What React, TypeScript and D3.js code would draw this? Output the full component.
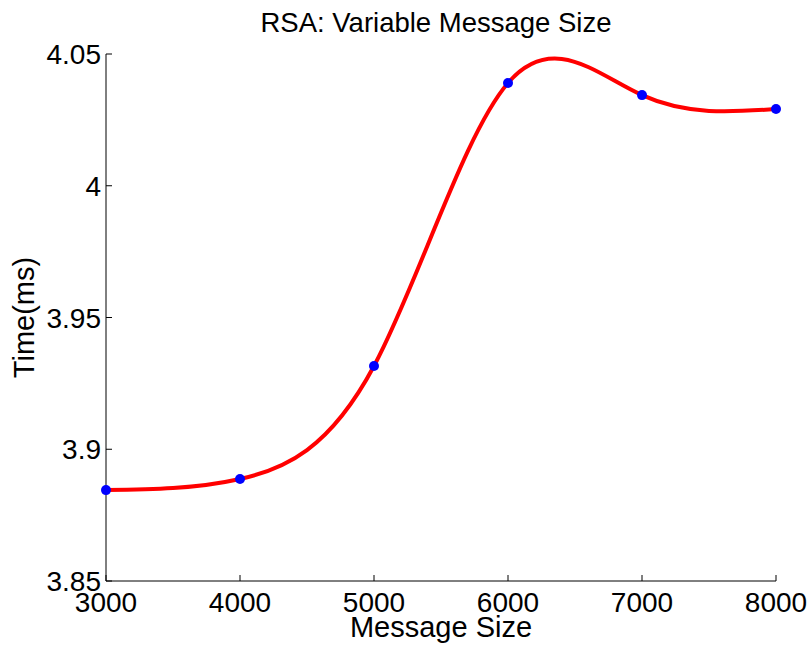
import { useRef, useEffect } from 'react';
import * as d3 from 'd3';

const sizes = [3000, 4000, 5000, 6000, 7000, 8000];
const times = [3.8845, 3.8887, 3.9316, 4.039, 4.0344, 4.0291];
const xTicks = [3000, 4000, 5000, 6000, 7000, 8000];
const yTicks = [3.85, 3.9, 3.95, 4, 4.05];

const W = 809;
const H = 646;
const margin = { left: 106, right: 33, top: 54, bottom: 65 };

export default function App() {
  const svgRef = useRef<SVGSVGElement>(null);

  useEffect(() => {
    if (!svgRef.current) return;
    const svg = d3.select(svgRef.current);
    svg.selectAll('*').remove();

    const font = '"Liberation Sans", Arial, Helvetica, sans-serif';
    const x = d3.scaleLinear().domain([3000, 8000]).range([margin.left, W - margin.right]);
    const y = d3.scaleLinear().domain([3.85, 4.05]).range([H - margin.bottom, margin.top]);

    // axes lines
    svg.append('line')
      .attr('x1', x(3000)).attr('x2', x(8000))
      .attr('y1', y(3.85)).attr('y2', y(3.85))
      .attr('stroke', '#000').attr('stroke-width', 1);
    svg.append('line')
      .attr('x1', x(3000)).attr('x2', x(3000))
      .attr('y1', y(3.85)).attr('y2', y(4.05))
      .attr('stroke', '#000').attr('stroke-width', 1);

    // ticks (inward)
    svg.selectAll('.xt').data(xTicks).enter().append('line')
      .attr('x1', d => x(d)).attr('x2', d => x(d))
      .attr('y1', y(3.85)).attr('y2', y(3.85) - 6)
      .attr('stroke', '#000');
    svg.selectAll('.yt').data(yTicks).enter().append('line')
      .attr('x1', x(3000)).attr('x2', x(3000) + 6)
      .attr('y1', d => y(d)).attr('y2', d => y(d))
      .attr('stroke', '#000');

    svg.selectAll('.xl').data(xTicks).enter().append('text')
      .attr('x', d => x(d)).attr('y', y(3.85) + 31)
      .attr('text-anchor', 'middle')
      .attr('font-family', font).attr('font-size', 28)
      .text(d => String(d));
    svg.selectAll('.yl').data(yTicks).enter().append('text')
      .attr('x', x(3000) - 5).attr('y', d => y(d) + 10)
      .attr('text-anchor', 'end')
      .attr('font-family', font).attr('font-size', 28)
      .text(d => String(d));

    // curve
    const line = d3.line<number>()
      .x((_, i) => x(sizes[i]))
      .y(d => y(d))
      .curve(d3.curveNatural);
    svg.append('path')
      .attr('d', line(times) as string)
      .attr('fill', 'none')
      .attr('stroke', '#ff0000')
      .attr('stroke-width', 4);

    svg.selectAll('.pt').data(times).enter().append('circle')
      .attr('cx', (_, i) => x(sizes[i]))
      .attr('cy', d => y(d))
      .attr('r', 5)
      .attr('fill', '#0000ff');

    // labels
    svg.append('text')
      .attr('x', 436).attr('y', 32)
      .attr('text-anchor', 'middle')
      .attr('font-family', font).attr('font-size', 27.5)
      .text('RSA: Variable Message Size');
    svg.append('text')
      .attr('x', 441).attr('y', 637)
      .attr('text-anchor', 'middle')
      .attr('font-family', font).attr('font-size', 29)
      .text('Message Size');
    svg.append('text')
      .attr('transform', `translate(34, ${(y(3.85) + y(4.05)) / 2}) rotate(-90)`)
      .attr('text-anchor', 'middle')
      .attr('font-family', font).attr('font-size', 29)
      .text('Time(ms)');
  }, []);

  return (
    <svg
      ref={svgRef}
      width={W}
      height={H}
      style={{ position: 'absolute', left: 0, top: 0, background: '#fff' }}
    />
  );
}
